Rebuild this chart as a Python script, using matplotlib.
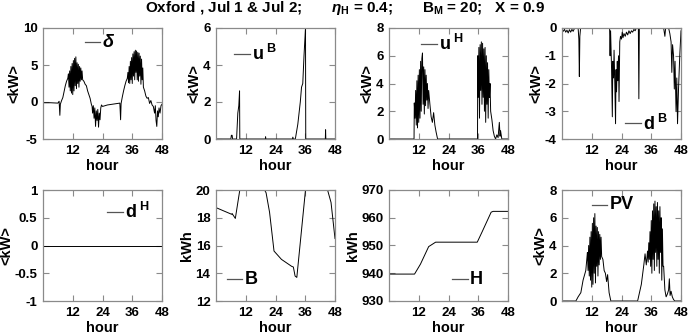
import matplotlib
matplotlib.use("Agg")
import matplotlib.pyplot as plt

plt.rcParams['font.family'] = ['Liberation Sans', 'DejaVu Sans']
plt.rcParams['font.weight'] = 'bold'
plt.rcParams['axes.unicode_minus'] = False
plt.rcParams['mathtext.fontset'] = 'custom'
plt.rcParams['mathtext.rm'] = 'Liberation Sans:bold'
plt.rcParams['mathtext.bf'] = 'Liberation Sans:bold'
plt.rcParams['mathtext.it'] = 'Liberation Sans:italic:bold'

# delta = PV - load (kW)
delta_t = [0, 3, 6, 6.5, 6.8, 7.0, 7.5, 8.0, 8.5, 9, 9.5, 10,
           10.25, 10.5, 10.75, 11, 11.25, 11.5, 11.75, 12, 12.25, 12.5, 12.75, 13,
           13.25, 13.5, 13.75, 14, 14.25, 14.5, 14.75, 15, 15.25, 15.5, 15.75, 16,
           16.5, 17, 17.5, 18, 18.5, 19, 19.5, 19.8,
           20, 20.3, 20.6, 20.9, 21.2, 21.5, 21.8, 22.1, 22.4, 22.7, 23, 23.3, 23.6,
           24, 25, 26, 27, 28, 29, 30, 31, 31.3, 31.5, 32, 32.5, 33, 33.5, 34,
           34.25, 34.5, 34.75, 35, 35.25, 35.5, 35.75, 36, 36.25, 36.5, 36.75, 37,
           37.25, 37.5, 37.75, 38, 38.25, 38.5, 38.75, 39, 39.25, 39.5, 39.75, 40,
           40.25, 40.5, 41, 41.5, 42, 42.5, 43, 43.5, 44, 44.5, 45, 45.3, 45.6,
           45.9, 46.2, 46.5, 46.8, 47.2, 47.6, 48]
delta_v = [-0.1, -0.1, -0.15, 0.1, -1.8, -0.3, 0.2, 0.6, 1.4, 2.2, 2.8, 3.2,
           3.8, 2.0, 4.2, 1.5, 4.8, 1.2, 5.2, 1.0, 5.6, 1.5, 5.9, 2.2,
           6.1, 1.8, 5.3, 2.5, 5.1, 2.0, 4.8, 2.8, 4.6, 3.0, 4.2, 3.0,
           2.8, 2.4, 2.2, 1.5, 1.0, 0.5, -0.3, -0.6,
           -1.5, -0.5, -2.2, -0.8, -3.3, -1.2, -2.5, -1.0, -3.4, -1.5, -2.4, -0.8, -0.4,
           -0.6, -0.5, -0.4, -0.35, -0.3, -0.25, -0.2, -0.15, -2.4, -0.2, 0.7, 1.5, 2.2, 2.8, 3.2,
           4.0, 2.6, 4.8, 2.5, 5.5, 3.0, 6.0, 2.5, 6.5, 3.5, 6.8, 3.0,
           7.0, 4.0, 6.9, 3.0, 6.7, 2.8, 6.6, 3.5, 6.2, 2.4, 5.8, 3.0,
           4.6, 2.0, 1.5, 0.8, 0.5, 0.6, -0.2, 0.2, -0.4, -0.6, -1.5, -0.5, -2.5,
           -3.3, -1.2, -2.0, -0.8, -1.5, -0.5, -0.3]

# battery charging u^B (kW)
ub_t = [0, 6.0, 6.2, 6.5, 6.7, 8.3, 8.8, 9.0, 9.2, 9.5, 9.6, 19.9, 20, 20.1,
        30.8, 31, 31.2, 32, 33, 34, 34.5, 35, 35.5, 36.1, 36.2, 44.1, 44.2, 44.3, 48]
ub_v = [0, 0, 0.2, 0.2, 0, 0, 1.4, 1.6, 1.8, 2.6, 0, 0, 0.12, 0,
        0, 0.1, 0, 0, 0.8, 2.0, 2.8, 3.0, 4.5, 6.0, 0, 0, 0.5, 0, 0]

# hydrogen charging u^H (kW)
uh_t = [0, 10.1, 10.2, 10.5, 10.75, 11, 11.25, 11.5, 11.75, 12, 12.25, 12.5, 12.75,
        13, 13.25, 13.5, 13.75, 14, 14.25, 14.5, 14.75, 15, 15.25, 15.5, 15.75, 16,
        16.5, 17, 17.5, 18, 18.5, 19, 19.6, 35.7, 35.8, 36, 36.25, 36.5, 36.75, 37,
        37.25, 37.5, 37.75, 38, 38.25, 38.5, 38.75, 39, 39.25, 39.5, 39.75, 40,
        40.25, 40.5, 40.75, 41, 41.5, 42, 42.5, 43, 43.5, 44, 44.5, 44.8, 45, 45.5, 48]
uh_v = [0, 0, 2.6, 1.5, 3.5, 1.0, 4.2, 0.8, 4.6, 1.2, 5.0, 1.5, 5.6,
        2.0, 5.8, 6.2, 2.5, 5.2, 1.8, 5.0, 2.4, 4.6, 2.8, 4.0, 2.2, 3.5,
        2.5, 1.6, 1.2, 1.9, 1.0, 0.5, 0, 0, 6.0, 3.0, 6.6, 1.5, 6.8, 3.5,
        7.0, 2.5, 6.9, 3.0, 6.5, 2.0, 6.6, 1.2, 6.0, 2.5, 5.5, 1.5,
        5.0, 3.0, 4.0, 2.0, 1.4, 0.6, 0.2, 0, 0.3, 0.1, 1.2, 0.2, 0.6, 0, 0]

# battery discharging d^B (kW)
db_t = [0, 0.5, 1, 1.5, 2, 2.5, 3, 3.5, 4, 4.5, 5, 5.5, 6.5, 6.8, 7.0, 7.2, 7.5,
        19.2, 19.4, 19.6, 20, 20.3, 20.5, 20.8, 21, 21.3, 21.6, 21.8, 22, 22.3,
        22.5, 22.8, 23, 23.3, 23.6, 24, 24.3, 24.6, 25, 25.5, 26, 26.5, 27, 27.5,
        28, 28.5, 29, 29.5, 30, 30.8, 31.0, 31.2, 41, 41.5, 41.8, 43, 43.5, 44,
        44.3, 44.6, 45, 45.3, 45.6, 46, 46.3, 46.6, 47, 47.5, 48]
db_v = [-0.05, -0.12, -0.05, -0.15, -0.08, -0.18, -0.06, -0.15, -0.05, -0.12, -0.02, 0, 0, -0.4, -1.75, -0.3, 0,
        0, -1.0, -0.1, -1.5, -3.2, -1.2, -1.8, -0.8, -2.0, -3.45, -1.5, -2.3, -1.2,
        -1.9, -1.0, -2.65, -0.5, -0.3, -0.4, -0.15, -0.35, -0.2, -0.3, -0.15, -0.25, -0.1, -0.2,
        -0.1, -0.15, -0.05, -0.1, 0, 0, -2.55, 0, 0, -0.3, 0, 0, -0.2, -0.5,
        -1.6, -0.6, -1.0, -2.2, -1.2, -3.0, -1.8, -3.45, -2.2, -1.0, -0.1]

# hydrogen discharging d^H (kW)
dh_t = [0, 48]
dh_v = [0, 0]

# battery state B (kWh)
b_t = [0, 6.3, 6.5, 7.8, 9.6, 19.6, 20.2, 21.6, 23.4, 26.4, 30.5, 31.2, 31.9, 32.6,
       36.1, 45, 46.4, 48]
b_v = [18.73, 18.25, 18.3, 17.95, 20, 20, 19.8, 18.4, 15.6, 15.0, 14.5, 14.45, 13.8, 13.7,
       20, 20, 19.1, 16.5]

# hydrogen storage H (kWh)
h_t = [0, 10.3, 12.7, 16, 18.8, 35.6, 37.6, 41.2, 42, 48]
h_v = [939.7, 939.7, 943.3, 949.6, 951.2, 951.2, 955, 962, 962.3, 962.3]

# photovoltaic PV (kW)
pv_t = [0, 5.6, 6.5, 7.6, 8.5, 9.6, 10,
        10.25, 10.5, 10.75, 11, 11.25, 11.5, 11.75, 12, 12.25, 12.5, 12.75, 13,
        13.25, 13.5, 13.75, 14, 14.25, 14.5, 14.75, 15, 15.25, 15.5, 15.75, 16,
        16.5, 17, 17.5, 18, 18.4, 19, 19.7, 30.5, 31, 32, 33, 33.5, 34,
        34.5, 34.75, 35, 35.25, 35.5, 35.75, 36, 36.25, 36.5, 36.75, 37, 37.25,
        37.5, 37.75, 38, 38.25, 38.5, 38.75, 39, 39.25, 39.5, 39.75, 40, 40.25,
        40.5, 40.75, 41, 41.5, 42, 42.5, 43, 43.3, 43.6, 44, 44.5, 45, 45.5, 48]
pv_v = [0, 0, 0.3, 0.6, 1.5, 2.2, 3.0,
        3.5, 2.2, 4.0, 1.8, 4.6, 1.5, 5.0, 1.0, 5.6, 1.2, 6.0, 2.0,
        6.3, 1.3, 5.4, 2.5, 5.3, 1.8, 5.0, 2.6, 4.8, 3.0, 4.6, 3.2,
        3.0, 2.2, 2.0, 1.4, 1.9, 0.6, 0, 0, 0.4, 1.2, 2.6, 3.4, 2.6,
        3.6, 2.8, 4.2, 3.0, 5.0, 2.5, 5.8, 2.0, 6.5, 3.0, 7.0, 2.2,
        7.2, 3.5, 6.8, 2.5, 7.1, 3.0, 6.5, 2.0, 6.8, 3.5, 6.0, 1.5,
        5.2, 2.5, 2.5, 0.8, 0.3, 0.5, 0.8, 1.6, 0.4, 0.7, 0.3, 0.1, 0, 0]

panels = [
    (delta_t, delta_v, (-5, 10), [-5, 0, 5, 10], '<kW>', 'δ', (0.35, 0.87)),
    (ub_t, ub_v, (0, 6), [0, 2, 4, 6], '<kW>', r'u$^{\ \mathbf{B}}$', (0.155, 0.77)),
    (uh_t, uh_v, (0, 8), [0, 2, 4, 6, 8], '<kW>', r'u$^{\ \mathbf{H}}$', (0.27, 0.86)),
    (db_t, db_v, (-4, 0), [-4, -3, -2, -1, 0], '<kW>', r'd$^{\ \mathbf{B}}$', (0.53, 0.14)),
    (dh_t, dh_v, (-1, 1), [-1, -0.5, 0, 0.5, 1], '<kW>', r'd$^{\ \mathbf{H}}$', (0.54, 0.80)),
    (b_t, b_v, (12, 20), [12, 14, 16, 18, 20], 'kWh', 'B', (0.09, 0.195)),
    (h_t, h_v, (930, 970), [930, 940, 950, 960, 970], 'kWh', 'H', (0.53, 0.195)),
    (pv_t, pv_v, (0, 8), [0, 2, 4, 6, 8], '<kW>', 'PV', (0.25, 0.865)),
]

fig = plt.figure(figsize=(6.9, 3.36), dpi=100)
lefts = [43, 216, 389, 562]
W = 690.0
H = 336.0
frame = '#8a8a8a'

for i, (t, v, ylim, yt, ylab, lab, pos) in enumerate(panels):
    row, col = divmod(i, 4)
    top = 28 if row == 0 else 190
    ax = fig.add_axes([lefts[col] / W, 1 - (top + 111) / H, 119 / W, 111 / H])
    ax.plot(t, v, color='black', lw=0.7)
    ax.set_xlim(0, 48)
    ax.set_ylim(*ylim)
    ax.set_xticks([12, 24, 36, 48])
    ax.set_yticks(yt)
    if ylim == (-1, 1):
        ax.set_yticklabels(['-1', '-0.5', '0', '0.5', '1'])
    ax.tick_params(direction='in', length=4, width=0.8, color=frame,
                   top=True, right=True, labelsize=9.5, pad=4)
    for s in ax.spines.values():
        s.set_color(frame)
        s.set_linewidth(0.9)
    ax.set_xlabel('hour', fontsize=10.5, fontweight='bold', labelpad=2)
    ax.set_ylabel(ylab, fontsize=10.5, fontweight='bold', labelpad=1)
    # gnuplot-style key: short line then label
    x0, y0 = pos
    ax.plot([x0, x0 + 0.13], [y0, y0], transform=ax.transAxes, color='#555555', lw=0.9)
    if lab == 'δ':
        ax.text(x0 + 0.15, y0, lab, transform=ax.transAxes, fontsize=13,
                fontweight='bold', fontstyle='italic', va='center', ha='left')
    else:
        ax.text(x0 + 0.15, y0, lab, transform=ax.transAxes, fontsize=13,
                fontweight='bold', va='center', ha='left')

fig.text(0.5, 0.975,
         r'Oxford , Jul 1 & Jul 2;       $\eta_{\mathbf{H}}$ = 0.4;       B$_{\mathbf{M}}$ = 20;   X = 0.9',
         ha='center', va='center', fontsize=11, fontweight='bold')

fig.savefig('out.png', dpi=100)
